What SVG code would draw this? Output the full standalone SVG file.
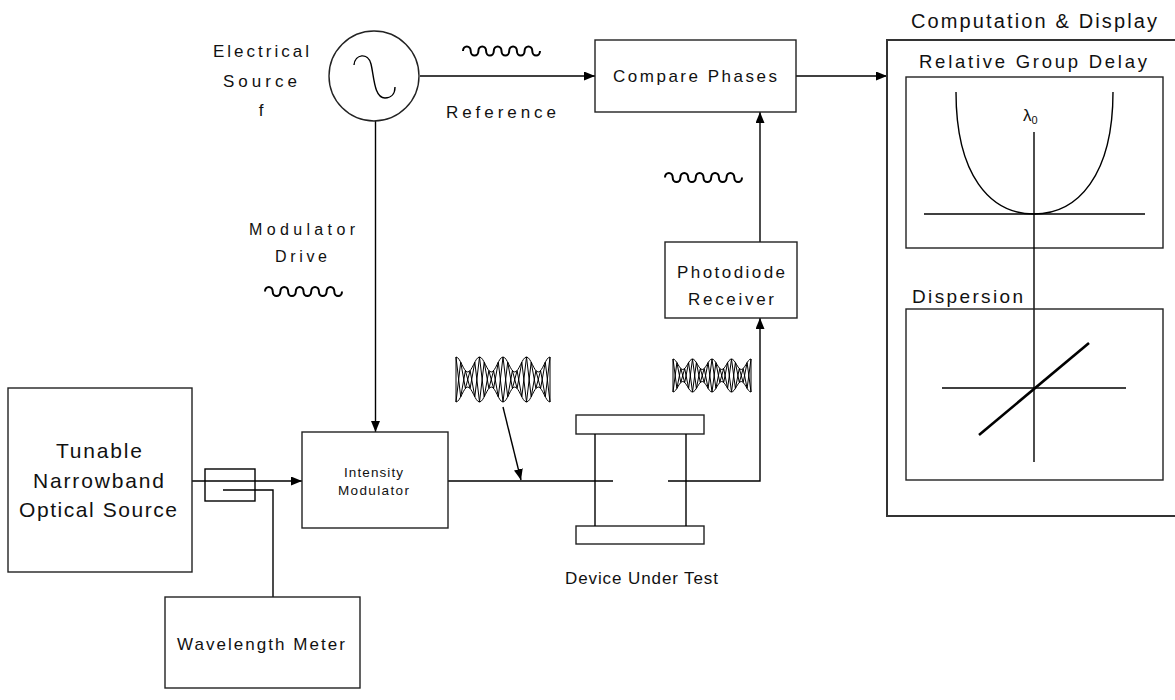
<svg xmlns="http://www.w3.org/2000/svg" width="1175" height="700" viewBox="0 0 1175 700">
<style>
.box{fill:#fff;stroke:#222;stroke-width:1.4}
.ln{fill:none;stroke:#000;stroke-width:1.4}
.wave{fill:none;stroke:#000;stroke-width:2}
.thin{fill:none;stroke:#000;stroke-width:1}
text{font-family:"Liberation Sans",Arial,sans-serif;fill:#111}
</style>
<defs>
<marker id="ah" markerUnits="userSpaceOnUse" markerWidth="11" markerHeight="9" refX="11" refY="4.5" orient="auto">
<path d="M0,0 L11,4.5 L0,9 z" fill="#000"/>
</marker>
<path id="sw" d="M0,0 a3.85,4.6 0 0 1 7.7,0 a3.85,4.6 0 0 0 7.7,0 a3.85,4.6 0 0 1 7.7,0 a3.85,4.6 0 0 0 7.7,0 a3.85,4.6 0 0 1 7.7,0 a3.85,4.6 0 0 0 7.7,0 a3.85,4.6 0 0 1 7.7,0 a3.85,4.6 0 0 0 7.7,0 a3.85,4.6 0 0 1 7.7,0 a3.85,4.6 0 0 0 7.7,0"/>
</defs>

<g id="connectors">
<line class="ln" x1="375.5" y1="121" x2="375.5" y2="432" marker-end="url(#ah)"/>
<line class="ln" x1="420" y1="76" x2="595" y2="76" marker-end="url(#ah)"/>
<line class="ln" x1="796" y1="76" x2="887" y2="76" marker-end="url(#ah)"/>
<line class="ln" x1="192" y1="481" x2="302" y2="481" marker-end="url(#ah)"/>
<path class="ln" d="M223,490 H273 V597"/>
<line class="ln" x1="448" y1="481" x2="613" y2="481"/>
<path class="ln" d="M668,481 H760 V318" marker-end="url(#ah)"/>
<line class="ln" x1="760" y1="242" x2="760" y2="112" marker-end="url(#ah)"/>
<line class="ln" x1="503" y1="407" x2="521" y2="480" marker-end="url(#ah)"/>
</g>

<g id="electrical-source">
<circle cx="374" cy="76" r="45" fill="#fff" stroke="#222" stroke-width="1.4"/>
<path class="ln" d="M354,65 C355,54 368,52 371,64 C374,76 374,98 385,98 C391,98 395,94 395,87"/>
<text x="213" y="57" font-size="17" textLength="96" lengthAdjust="spacing">Electrical</text>
<text x="223" y="87" font-size="17" textLength="74" lengthAdjust="spacing">Source</text>
<text x="261" y="116" font-size="17" text-anchor="middle">f</text>
</g>

<g id="signals">
<use href="#sw" class="wave" x="463" y="51"/>
<use href="#sw" class="wave" x="265" y="291.5"/>
<use href="#sw" class="wave" x="665" y="177.5"/>
<text x="446" y="118" font-size="17" textLength="110" lengthAdjust="spacing">Reference</text>
<text x="249" y="235" font-size="16" textLength="106" lengthAdjust="spacing">Modulator</text>
<text x="275" y="262" font-size="16" textLength="52" lengthAdjust="spacing">Drive</text>
</g>

<g id="modulated-1">
<path class="thin" d="M456,357 C460.28,357 463.47,372 467.75,372 S475.22,357 479.5,357 S486.97,372 491.25,372 S498.72,357 503,357 S510.47,372 514.75,372 S522.22,357 526.5,357 S533.97,372 538.25,372 S545.72,357 550,357"/>
<path class="thin" d="M456,402 C460.28,402 463.47,387 467.75,387 S475.22,402 479.5,402 S486.97,387 491.25,387 S498.72,402 503,402 S510.47,387 514.75,387 S522.22,402 526.5,402 S533.97,387 538.25,387 S545.72,402 550,402"/>
<path class="thin" d="M456,357 V402 M550,357 V402"/>
<polyline class="thin" points="456,357 460.7,396.8 465.4,370.6 470.1,388.4 474.8,362.2 479.5,402 484.2,362.2 488.9,388.4 493.6,370.6 498.3,396.8 503,357 507.7,396.8 512.4,370.6 517.1,388.4 521.8,362.2 526.5,402 531.2,362.2 535.9,388.4 540.6,370.6 545.3,396.8 550,357"/>
<polyline class="thin" points="456,402 460.7,362.2 465.4,388.4 470.1,370.6 474.8,396.8 479.5,357 484.2,396.8 488.9,370.6 493.6,388.4 498.3,362.2 503,402 507.7,362.2 512.4,388.4 517.1,370.6 521.8,396.8 526.5,357 531.2,396.8 535.9,370.6 540.6,388.4 545.3,362.2 550,402"/>
</g>

<g id="modulated-2">
<path class="thin" d="M673,359 C676.55,359 679.2,369.5 682.75,369.5 S688.95,359 692.5,359 S698.7,369.5 702.25,369.5 S708.45,359 712,359 S718.2,369.5 721.75,369.5 S727.95,359 731.5,359 S737.7,369.5 741.25,369.5 S747.45,359 751,359"/>
<path class="thin" d="M673,392 C676.55,392 679.2,381.5 682.75,381.5 S688.95,392 692.5,392 S698.7,381.5 702.25,381.5 S708.45,392 712,392 S718.2,381.5 721.75,381.5 S727.95,392 731.5,392 S737.7,381.5 741.25,381.5 S747.45,392 751,392"/>
<path class="thin" d="M673,359 V392 M751,359 V392"/>
<polyline class="thin" points="673,359 676.9,388.4 680.8,368.5 684.7,382.5 688.6,362.6 692.5,392 696.4,362.6 700.3,382.5 704.2,368.5 708.1,388.4 712,359 715.9,388.4 719.8,368.5 723.7,382.5 727.6,362.6 731.5,392 735.4,362.6 739.3,382.5 743.2,368.5 747.1,388.4 751,359"/>
<polyline class="thin" points="673,392 676.9,362.6 680.8,382.5 684.7,368.5 688.6,388.4 692.5,359 696.4,388.4 700.3,368.5 704.2,382.5 708.1,362.6 712,392 715.9,362.6 719.8,382.5 723.7,368.5 727.6,388.4 731.5,359 735.4,388.4 739.3,368.5 743.2,382.5 747.1,362.6 751,392"/>
</g>

<g id="compare-phases">
<rect class="box" x="595" y="40" width="201" height="72"/>
<text x="613" y="82" font-size="17" textLength="164" lengthAdjust="spacing">Compare Phases</text>
</g>

<g id="photodiode-receiver">
<rect class="box" x="665" y="242" width="132" height="76"/>
<text x="677" y="278" font-size="17" textLength="108" lengthAdjust="spacing">Photodiode</text>
<text x="688" y="305" font-size="17" textLength="86" lengthAdjust="spacing">Receiver</text>
</g>

<g id="optical-source">
<rect class="box" x="8" y="388" width="184" height="184"/>
<text x="56" y="458" font-size="21" textLength="86" lengthAdjust="spacing">Tunable</text>
<text x="33" y="488" font-size="21" textLength="131" lengthAdjust="spacing">Narrowband</text>
<text x="19" y="517" font-size="21" textLength="158" lengthAdjust="spacing">Optical Source</text>
</g>

<g id="coupler">
<rect x="205" y="469" width="50" height="32" fill="none" stroke="#000" stroke-width="1.4"/>
</g>

<g id="intensity-modulator">
<rect class="box" x="302" y="432" width="146" height="96"/>
<text x="344" y="477" font-size="13.5" textLength="59" lengthAdjust="spacing">Intensity</text>
<text x="338" y="495" font-size="13.5" textLength="71" lengthAdjust="spacing">Modulator</text>
</g>

<g id="device-under-test">
<rect class="box" x="576" y="415" width="128" height="19"/>
<rect class="box" x="576" y="526" width="128" height="18"/>
<line class="ln" x1="595" y1="434" x2="595" y2="526"/>
<line class="ln" x1="686" y1="434" x2="686" y2="526"/>
<text x="565" y="584" font-size="17" textLength="153" lengthAdjust="spacing">Device Under Test</text>
</g>

<g id="wavelength-meter">
<rect class="box" x="165" y="597" width="195" height="91"/>
<text x="177" y="650" font-size="17" textLength="168" lengthAdjust="spacing">Wavelength Meter</text>
</g>

<g id="computation-display">
<text x="911" y="28" font-size="20" textLength="246" lengthAdjust="spacing">Computation &amp; Display</text>
<rect x="887" y="40" width="300" height="476" fill="none" stroke="#333" stroke-width="2"/>
<text x="919" y="68" font-size="18.5" textLength="228" lengthAdjust="spacing">Relative Group Delay</text>
<rect x="906" y="77" width="257" height="171" fill="none" stroke="#222" stroke-width="1.4"/>
<path class="ln" d="M956,92 C956,175 990,214 1034,214 C1078,214 1113,175 1113,92"/>
<line class="ln" x1="924" y1="214" x2="1145" y2="214"/>
<line class="ln" x1="1034" y1="132" x2="1034" y2="462"/>
<text x="1023" y="121" font-size="17">λ<tspan font-size="11" dy="3">0</tspan></text>
<text x="912" y="303" font-size="19" textLength="111" lengthAdjust="spacing">Dispersion</text>
<rect x="906" y="309" width="257" height="171" fill="none" stroke="#222" stroke-width="1.4"/>
<line class="ln" x1="942" y1="388" x2="1126" y2="388"/>
<line x1="979" y1="435" x2="1089" y2="343" stroke="#000" stroke-width="2.6"/>
</g>
</svg>
